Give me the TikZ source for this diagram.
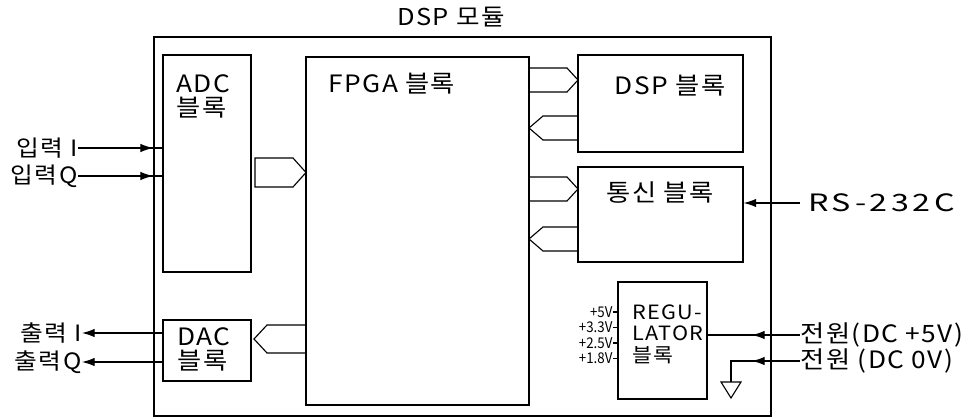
\documentclass[tikz,border=0pt]{standalone}
\usepackage{fontspec}
\setmainfont{Noto Sans CJK KR}[LetterSpace=6,FakeStretch=1.1]
\newfontfamily\voltfont{Noto Sans CJK KR}[FakeStretch=0.9]
\newfontfamily\widefont{Noto Sans CJK KR}[LetterSpace=15,FakeStretch=1.35]
\usetikzlibrary{arrows.meta,fit}
\begin{document}
\begin{tikzpicture}[
		x=0.025cm, y=-0.025cm,
		>={Latex[length=9pt,width=6pt]},
		line width=0.8pt,
		block/.style={draw, inner sep=0pt},
		blocktext/.style={font=\fontsize{17}{17}\selectfont, inner sep=0pt, align=left},
		iolabel/.style={font=\fontsize{16}{18}\selectfont, inner sep=0pt},
		volt/.style={font=\voltfont\fontsize{10.5}{11}\selectfont, inner sep=0pt}
	]
		\useasboundingbox (0,0) rectangle (972,419);
		\node[block, line width=1.3pt, fit={(154,37) (771,416)}] (mod) {};
		\node[iolabel, font=\fontsize{16.5}{18}\selectfont] (title) at (451,17) {DSP 모듈};
		\node[block, fit={(163,55) (251,272)}] (adc) {};
		\node[block, fit={(163,320) (251,381)}] (dac) {};
		\node[block, fit={(306,57) (529,405)}] (fpga) {};
		\node[block, fit={(578,55) (743,152)}] (dsp) {};
		\node[block, fit={(578,167) (743,262)}] (com) {};
		\node[block, fit={(618,282) (707,399)}] (reg) {};
		\node[blocktext, anchor=west] (adcT) at (176,96) {ADC\\블록};
		\node[blocktext, anchor=west] (dacT) at (177,349) {DAC\\블록};
		\node[blocktext, anchor=west] (fpgaT) at (328,84) {FPGA 블록};
		\node[blocktext] (dspT) at (670,86) {DSP 블록};
		\node[blocktext] (comT) at (660,193) {통신 블록};
		\node[blocktext, font=\fontsize{14}{15.2}\selectfont, anchor=west] (regT) at (632,334) {REGU-\\LATOR\\블록};
		\draw (255,158) -- (293,158) -- (306,172.5) -- (293,187) -- (255,187) -- cycle;
		\draw (306,325) -- (267,325) -- (254,339) -- (267,353) -- (306,353);
		\foreach \y in {68,177} {
			\draw (529,\y) -- (567,\y) -- (578,{\y+12}) -- (567,{\y+24}) -- (529,{\y+24});
		}
		\foreach \y in {116,227} {
			\draw (578,\y) -- (543,\y) -- (529,{\y+12}) -- (543,{\y+24}) -- (578,{\y+24});
		}
		\foreach \lbl/\y [count=\i] in {입력 I/148, 입력Q/176} {
			\node[iolabel, anchor=east] (in\i) at (78,\y) {\lbl};
			\draw (in\i.east) -- (in\i.east -| adc.west);
			\draw[->] (in\i.east) -- (in\i.east -| mod.west);
		}
		\foreach \lbl/\y [count=\i] in {출력 I/333, 출력Q/362} {
			\node[iolabel, anchor=east] (out\i) at (82,\y) {\lbl};
			\draw[->] (out\i.east -| dac.west) -- (out\i.east);
		}
		\node[iolabel, font=\widefont\fontsize{17}{18}\selectfont, inner xsep=5.5pt, anchor=west] (rs) at (800,203) {RS-232C};
		\draw[->] (rs.west) -- (rs.west -| com.east);
		\node[iolabel, font=\fontsize{17}{18}\selectfont, anchor=west] (p5) at (800,335) {전원(DC +5V)};
		\node[iolabel, font=\fontsize{17}{18}\selectfont, anchor=west] (p0) at (800,361) {전원 (DC 0V)};
		\path (p5.west) ++(-48,0) coordinate (p5tip);
		\draw (p5.west) -- (p5.west -| reg.east);
		\draw[->] (p5.west) -- (p5tip);
		\path (p0.west) ++(-48,0) coordinate (p0tip) ++(-21,0) coordinate (gnd);
		\draw (p0.west) -- (gnd) -- ++(0,21) coordinate (gndtop);
		\draw[->] (p0.west) -- (p0tip);
		\draw (gndtop) ++(-10,0) -- ++(20,0) -- ++(-10,16) -- cycle;
		\foreach \v/\y [count=\i] in {+5V/312, +3.3V/327.5, +2.5V/343, +1.8V/358.5} {
			\node[volt, anchor=east] (v\i) at (613,\y) {\v};
			\draw (v\i.east) -- (v\i.east -| reg.west);
		}
	\end{tikzpicture}
\end{document}
